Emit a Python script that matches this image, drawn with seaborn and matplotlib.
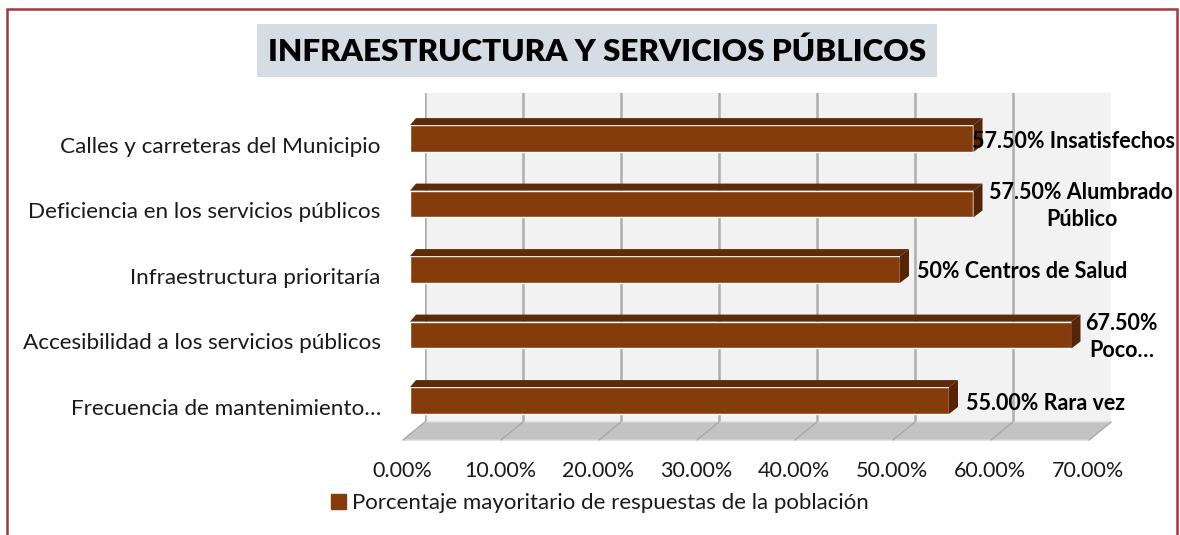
import numpy as np
import pandas as pd
import matplotlib
matplotlib.use("Agg")
import matplotlib.pyplot as plt
import seaborn as sns
from matplotlib.patches import Polygon, Rectangle, Patch
from matplotlib.transforms import ScaledTranslation, IdentityTransform

# datos del gráfico
titulo = "INFRAESTRUCTURA Y SERVICIOS PÚBLICOS"
categorias = [
    "Calles y carreteras del Municipio",
    "Deficiencia en los servicios públicos",
    "Infraestructura prioritaría",
    "Accesibilidad a los servicios públicos",
    "Frecuencia de mantenimiento…",
]
porcentajes = [57.5, 57.5, 50.0, 67.5, 55.0]
etiquetas = [
    "57.50% Insatisfechos",
    "57.50% Alumbrado\nPúblico",
    "50% Centros de Salud",
    "67.50%\nPoco…",
    "55.00% Rara vez",
]
ticks = [0, 10, 20, 30, 40, 50, 60, 70]
serie = "Porcentaje mayoritario de respuestas de la población"

# colores
marron = "#843C0C"
marron_top = "#5E2A08"
marron_lado = "#562507"

sns.set_style("white")
plt.rcParams["font.family"] = ["Lato", "DejaVu Sans"]
plt.rcParams["text.color"] = "#1A1A1A"
plt.rcParams["xtick.color"] = "#1A1A1A"
plt.rcParams["ytick.color"] = "#1A1A1A"

W, H = 1180, 535
fig = plt.figure(figsize=(W / 100, H / 100), dpi=100)


def caja(l, t, r, b):
    return [l / W, 1 - b / H, (r - l) / W, (b - t) / H]


# pared del fondo con las líneas de división
pared = fig.add_axes(caja(425, 93, 1111, 422))
pared.set_facecolor("#F2F2F2")
pared.set_xlim(0, 70)
pared.set_ylim(0, 1)
for t in ticks[:-1]:
    pared.axvline(t, color="#ADADAD", lw=1.8)
pared.set_xticks([])
pared.set_yticks([])
for s in pared.spines.values():
    s.set_visible(False)

# ejes de las barras
ax = fig.add_axes(caja(410, 93, 1096, 440))
ax.patch.set_alpha(0)
df = pd.DataFrame({"categoria": categorias, "porcentaje": porcentajes})
sns.barplot(data=df, x="porcentaje", y="categoria", orient="h", color=marron,
            saturation=1, width=0.41, ax=ax)
ax.set_xlim(0, 70)
ax.set_ylim(4.603, -0.695)
ax.set_xlabel("")
ax.set_ylabel("")
for s in ax.spines.values():
    s.set_visible(False)

ax.set_xticks(ticks)
ax.set_xticklabels([f"{t:.2f}%" for t in ticks], fontsize=15.5)
ax.tick_params(axis="x", length=0, pad=15)
ax.tick_params(axis="y", length=0, pad=21, labelsize=16.2)
for lbl in ax.get_xticklabels():
    lbl.set_transform(lbl.get_transform() + ScaledTranslation(-0.08, 0, fig.dpi_scale_trans))
for lbl in ax.get_yticklabels():
    lbl.set_transform(lbl.get_transform() + ScaledTranslation(0, -0.06, fig.dpi_scale_trans))

# título
tit = fig.text(597 / W, 1 - 52 / H, titulo, ha="center", va="center", fontsize=22.6,
               fontweight="heavy", color="black", zorder=3)

fig.canvas.draw()
idt = IdentityTransform()

tb = tit.get_window_extent()
fig.add_artist(Rectangle((tb.x0 - 11, tb.y0 - 11), tb.width + 22, tb.height + 25,
                         facecolor="#D6DCE4", edgecolor="none", transform=idt, zorder=2))

# suelo en perspectiva
bl = pared.transAxes.transform((0, 0))
br = pared.transAxes.transform((1, 0))
prof = np.array([-22, -18])
suelo = Polygon([bl, br, br + prof, bl + prof], closed=True, facecolor="#C3C3C3",
                edgecolor="#D9D9D9", lw=1, transform=idt)
fig.add_artist(suelo)
for t in ticks:
    p = pared.transData.transform((t, 0))
    fig.add_artist(plt.Line2D([p[0], p[0] + prof[0]], [p[1], p[1] + prof[1]],
                              color="#A8A8A8", lw=1, transform=idt))

# caras 3D de las barras
dx, dy = 9, 7
for p in ax.patches:
    x0, y0 = ax.transData.transform((p.get_x(), p.get_y()))
    x1, y1 = ax.transData.transform((p.get_x() + p.get_width(), p.get_y() + p.get_height()))
    xl, xr = min(x0, x1), max(x0, x1)
    yb, yt = min(y0, y1), max(y0, y1)
    ax.add_artist(Polygon([(xl, yt), (xr, yt), (xr + dx, yt + dy), (xl + 6, yt + dy)],
                          closed=True, facecolor=marron_top, edgecolor="none",
                          transform=idt, clip_on=False))
    ax.add_artist(Polygon([(xr, yb), (xr, yt), (xr + dx, yt + dy), (xr + dx, yb + dy)],
                          closed=True, facecolor=marron_lado, edgecolor="none",
                          transform=idt, clip_on=False))

# etiquetas de datos
desplaz = [(-1, -3, "left"), (108, -2, "center"), (17, -2, "left"), (50, -2, "center"), (17, -3, "left")]
for i, (v, txt) in enumerate(zip(porcentajes, etiquetas)):
    ox, oy, ha = desplaz[i]
    ax.annotate(txt, xy=(v, i), xytext=(ox * 0.72, oy * 0.72), textcoords="offset points",
                ha=ha, va="center", multialignment="center", fontsize=15.5,
                fontweight="bold", color="black", annotation_clip=False,
                linespacing=1.3)

# leyenda
fig.legend(handles=[Patch(color=marron, label=serie)], loc="center",
           bbox_to_anchor=(600 / W, 1 - 503 / H), frameon=False, fontsize=16,
           handlelength=0.65, handleheight=0.65, handletextpad=0.3)

# marco
fig.add_artist(Rectangle((7 / W, -0.05), 1170 / W, 1.05 - 8.5 / H, fill=False,
                         edgecolor="#A03A3F", lw=1.8, transform=fig.transFigure))

fig.savefig("out.png", dpi=100)
